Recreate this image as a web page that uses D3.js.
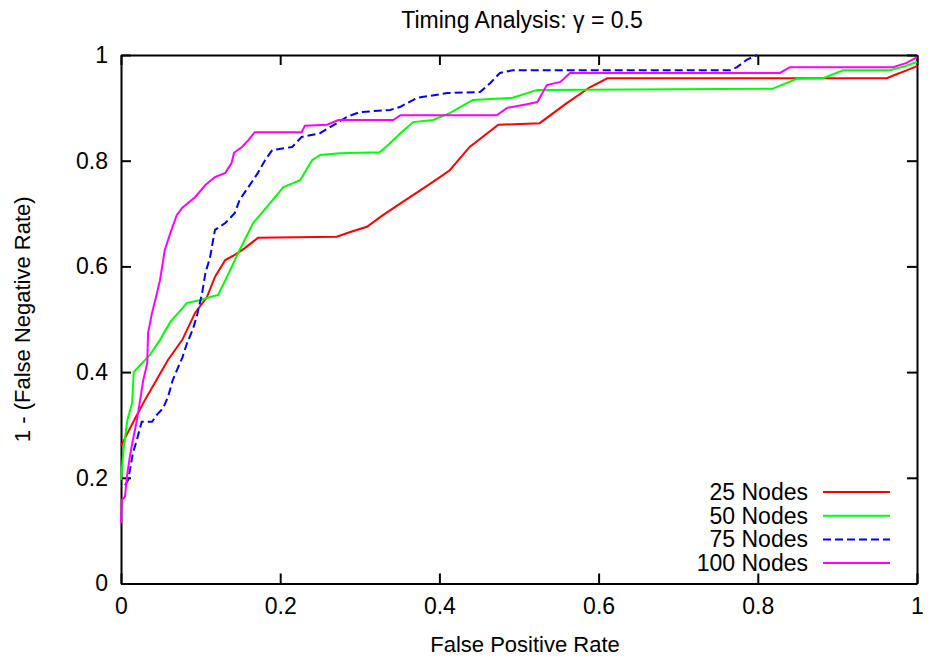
<!DOCTYPE html>
<html>
<head>
<meta charset="utf-8">
<script src="https://cdn.jsdelivr.net/npm/d3@7"></script>
<style>
  body { margin: 0; background: #fff; }
  text { font-family: "Liberation Sans", Arial, sans-serif; fill: #000; }
</style>
</head>
<body>
<script>
// ROC points: [false positive rate, 1 - false negative rate]
var nodes25 = [[0,0.26],[0.005,0.275],[0.018,0.313],[0.030,0.347],[0.046,0.389],[0.059,0.423],
    [0.077,0.461],[0.093,0.512],[0.108,0.542],[0.118,0.580],[0.131,0.612],[0.143,0.622],
    [0.156,0.635],[0.172,0.654],[0.271,0.656],[0.288,0.665],[0.309,0.675],[0.329,0.697],
    [0.354,0.722],[0.392,0.760],[0.413,0.782],[0.438,0.826],[0.474,0.868],[0.526,0.871],
    [0.560,0.909],[0.589,0.939],[0.611,0.956],[0.962,0.956],[0.975,0.964],[0.987,0.971],[1,0.979]];
var nodes50 = [[0,0.196],[0.003,0.252],[0.008,0.309],[0.014,0.342],[0.016,0.400],[0.024,0.413],
    [0.036,0.432],[0.049,0.461],[0.062,0.495],[0.083,0.531],[0.099,0.536],[0.112,0.542],
    [0.122,0.546],[0.133,0.580],[0.149,0.631],[0.166,0.682],[0.183,0.712],[0.204,0.750],
    [0.225,0.763],[0.240,0.801],[0.250,0.811],[0.275,0.814],[0.325,0.816],[0.338,0.833],
    [0.351,0.852],[0.367,0.873],[0.392,0.877],[0.413,0.890],[0.442,0.915],[0.492,0.919],
    [0.523,0.934],[0.818,0.936],[0.849,0.955],[0.882,0.956],[0.907,0.971],[0.966,0.971],
    [0.985,0.979],[1,0.987]];
var nodes75 = [[0.005,0.186],[0.009,0.196],[0.015,0.247],[0.020,0.272],[0.026,0.306],[0.039,0.306],
    [0.045,0.319],[0.053,0.332],[0.059,0.353],[0.065,0.385],[0.072,0.410],[0.077,0.427],
    [0.083,0.455],[0.090,0.480],[0.095,0.504],[0.102,0.550],[0.106,0.587],[0.112,0.618],
    [0.118,0.669],[0.131,0.682],[0.143,0.701],[0.149,0.726],[0.160,0.750],[0.172,0.777],
    [0.181,0.801],[0.190,0.820],[0.215,0.826],[0.227,0.845],[0.250,0.852],[0.271,0.871],
    [0.284,0.883],[0.300,0.892],[0.338,0.896],[0.351,0.902],[0.372,0.919],[0.410,0.928],
    [0.451,0.930],[0.464,0.947],[0.476,0.966],[0.492,0.971],[0.765,0.971],[0.774,0.977],
    [0.786,0.991],[0.799,1]];
var nodes100 = [[0,0.114],[0.001,0.158],[0.005,0.164],[0.008,0.209],[0.011,0.239],[0.015,0.272],
    [0.020,0.309],[0.024,0.347],[0.028,0.385],[0.033,0.417],[0.034,0.474],[0.039,0.512],
    [0.044,0.542],[0.049,0.574],[0.055,0.631],[0.062,0.663],[0.070,0.697],[0.077,0.711],
    [0.093,0.731],[0.106,0.754],[0.118,0.769],[0.131,0.777],[0.139,0.796],[0.142,0.815],
    [0.152,0.826],[0.160,0.839],[0.168,0.854],[0.227,0.854],[0.231,0.866],[0.259,0.868],
    [0.273,0.877],[0.342,0.877],[0.351,0.886],[0.472,0.886],[0.485,0.900],[0.510,0.907],
    [0.523,0.911],[0.535,0.943],[0.552,0.949],[0.564,0.966],[0.828,0.966],[0.840,0.977],
    [0.970,0.977],[0.987,0.985],[1,0.996]];

var seriesNames = ["25 Nodes", "50 Nodes", "75 Nodes", "100 Nodes"];
var seriesData = [nodes25, nodes50, nodes75, nodes100];
var seriesColors = ["#ff0000", "#00ff00", "#0000ff", "#ff00ff"];
var seriesDash = [null, null, "8,4", null];

var tickValues = [0, 0.2, 0.4, 0.6, 0.8, 1];
var tickLabels = ["0", "0.2", "0.4", "0.6", "0.8", "1"];

var width = 928,
    height = 660;
var margin = {top: 55, right: 11, bottom: 76.5, left: 121};
var plotW = width - margin.left - margin.right,
    plotH = height - margin.top - margin.bottom;

var svg = d3.select("body").append("svg")
    .attr("width", width)
    .attr("height", height);

var x = d3.scaleLinear().domain([0, 1]).range([0, plotW]);
var y = d3.scaleLinear().domain([0, 1]).range([plotH, 0]);

var g = svg.append("g")
    .attr("transform", "translate(" + margin.left + "," + margin.top + ")");

function fmt(d) { return tickLabels[tickValues.indexOf(d)]; }

// axes, gnuplot style: ticks inward on all four sides
var xAxis = g.append("g")
    .attr("transform", "translate(0," + plotH + ")")
    .call(d3.axisBottom(x).tickValues(tickValues).tickFormat(fmt).tickSize(-10).tickSizeOuter(0).tickPadding(14));
var yAxis = g.append("g")
    .call(d3.axisLeft(y).tickValues(tickValues).tickFormat(fmt).tickSize(-10).tickSizeOuter(0).tickPadding(13));
var topAxis = g.append("g")
    .call(d3.axisTop(x).tickValues(tickValues).tickFormat("").tickSize(-10).tickSizeOuter(0));
var rightAxis = g.append("g")
    .attr("transform", "translate(" + plotW + ",0)")
    .call(d3.axisRight(y).tickValues(tickValues).tickFormat("").tickSize(-10).tickSizeOuter(0));

[xAxis, yAxis, topAxis, rightAxis].forEach(function (a) {
    a.selectAll("path, line").attr("stroke", "#000").attr("stroke-width", 2);
    a.selectAll("text").style("font-size", "23px").attr("font-family", null);
});

var line = d3.line()
    .x(function (d) { return x(d[0]); })
    .y(function (d) { return y(d[1]); });

seriesData.forEach(function (data, i) {
    g.append("path")
        .datum(data)
        .attr("fill", "none")
        .attr("stroke", seriesColors[i])
        .attr("stroke-width", 2)
        .attr("stroke-dasharray", seriesDash[i])
        .attr("d", line);
});

// legend
var legend = g.append("g")
    .attr("transform", "translate(" + (plotW - 109) + "," + (plotH - 91.5) + ")");
seriesNames.forEach(function (name, i) {
    var row = legend.append("g").attr("transform", "translate(0," + (i * 23.7) + ")");
    row.append("text")
        .attr("x", 0)
        .attr("dy", "0.35em")
        .attr("text-anchor", "end")
        .style("font-size", "23px")
        .text(name);
    row.append("line")
        .attr("x1", 15).attr("x2", 82)
        .attr("stroke", seriesColors[i])
        .attr("stroke-width", 2)
        .attr("stroke-dasharray", seriesDash[i]);
});

// titles
svg.append("text")
    .attr("x", margin.left + plotW / 2 + 3)
    .attr("y", 28)
    .attr("text-anchor", "middle")
    .style("font-size", "23px")
    .text("Timing Analysis: \u03b3 = 0.5");

svg.append("text")
    .attr("x", margin.left + plotW / 2 + 6)
    .attr("y", 652)
    .attr("text-anchor", "middle")
    .style("font-size", "22px")
    .text("False Positive Rate");

svg.append("text")
    .attr("transform", "translate(30," + (margin.top + plotH / 2) + ") rotate(-90)")
    .attr("text-anchor", "middle")
    .style("font-size", "22px")
    .text("1 - (False Negative Rate)");
</script>
</body>
</html>
